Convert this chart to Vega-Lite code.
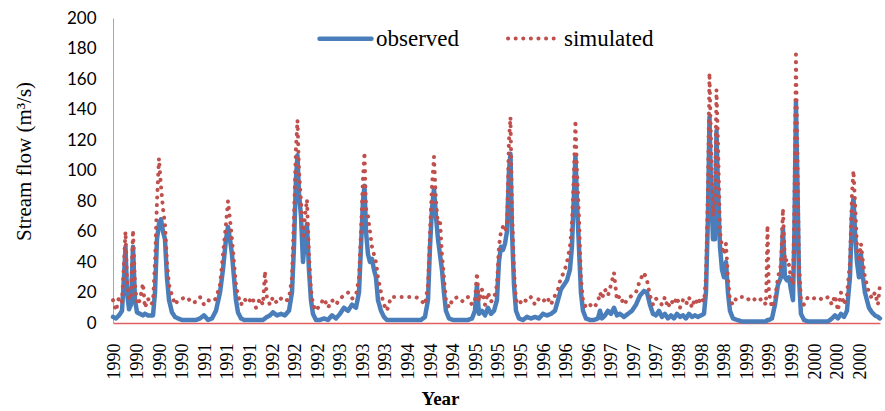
{
  "$schema": "https://vega.github.io/schema/vega-lite/v6.json",
  "width": 767,
  "height": 305,
  "autosize": {"type": "none"},
  "padding": {"left": 113, "top": 18, "right": 5, "bottom": 88},
  "background": "white",
  "config": {
    "view": {"stroke": null},
    "axis": {"grid": false},
    "legend": {
      "orient": "none",
      "legendX": 204,
      "legendY": -8,
      "direction": "horizontal",
      "padding": 0,
      "symbolType": "stroke",
      "symbolSize": 2700,
      "labelFont": "Liberation Serif",
      "labelFontSize": 23,
      "labelColor": "#000000",
      "labelOffset": 2,
      "columnPadding": 40
    }
  },
  "data": {
    "values": [
      {"year": 1989.971, "observed": 4, "simulated": 15},
      {"year": 1990.015, "observed": 3, "simulated": 8},
      {"year": 1990.058, "observed": 5, "simulated": 17},
      {"year": 1990.102, "observed": 8, "simulated": 14},
      {"year": 1990.131, "observed": 30, "simulated": 40},
      {"year": 1990.153, "observed": 50, "simulated": 60},
      {"year": 1990.175, "observed": 20, "simulated": 28},
      {"year": 1990.204, "observed": 9, "simulated": 15},
      {"year": 1990.233, "observed": 12, "simulated": 18},
      {"year": 1990.262, "observed": 50, "simulated": 61},
      {"year": 1990.291, "observed": 15, "simulated": 25},
      {"year": 1990.320, "observed": 7, "simulated": 12},
      {"year": 1990.364, "observed": 6, "simulated": 15},
      {"year": 1990.407, "observed": 5, "simulated": 26},
      {"year": 1990.436, "observed": 6, "simulated": 10},
      {"year": 1990.480, "observed": 5, "simulated": 16},
      {"year": 1990.524, "observed": 5, "simulated": 12},
      {"year": 1990.553, "observed": 5, "simulated": 14},
      {"year": 1990.582, "observed": 20, "simulated": 40},
      {"year": 1990.611, "observed": 55, "simulated": 80},
      {"year": 1990.640, "observed": 65, "simulated": 108},
      {"year": 1990.669, "observed": 68, "simulated": 90},
      {"year": 1990.698, "observed": 60, "simulated": 75},
      {"year": 1990.727, "observed": 55, "simulated": 65},
      {"year": 1990.756, "observed": 30, "simulated": 40},
      {"year": 1990.786, "observed": 15, "simulated": 25},
      {"year": 1990.829, "observed": 7, "simulated": 18},
      {"year": 1990.873, "observed": 4, "simulated": 12},
      {"year": 1990.917, "observed": 3, "simulated": 15},
      {"year": 1990.975, "observed": 2, "simulated": 16},
      {"year": 1991.047, "observed": 2, "simulated": 17},
      {"year": 1991.120, "observed": 2, "simulated": 13},
      {"year": 1991.178, "observed": 2, "simulated": 14},
      {"year": 1991.237, "observed": 3, "simulated": 17},
      {"year": 1991.295, "observed": 5, "simulated": 12},
      {"year": 1991.353, "observed": 2, "simulated": 15},
      {"year": 1991.411, "observed": 3, "simulated": 14},
      {"year": 1991.469, "observed": 8, "simulated": 16},
      {"year": 1991.528, "observed": 20, "simulated": 25},
      {"year": 1991.571, "observed": 35, "simulated": 45},
      {"year": 1991.615, "observed": 55, "simulated": 65},
      {"year": 1991.644, "observed": 63, "simulated": 80},
      {"year": 1991.673, "observed": 55, "simulated": 68},
      {"year": 1991.702, "observed": 45, "simulated": 55},
      {"year": 1991.731, "observed": 30, "simulated": 40},
      {"year": 1991.760, "observed": 15, "simulated": 25},
      {"year": 1991.789, "observed": 7, "simulated": 18},
      {"year": 1991.833, "observed": 3, "simulated": 12},
      {"year": 1991.877, "observed": 2, "simulated": 16},
      {"year": 1991.935, "observed": 2, "simulated": 13},
      {"year": 1991.993, "observed": 2, "simulated": 17},
      {"year": 1992.051, "observed": 2, "simulated": 10},
      {"year": 1992.109, "observed": 2, "simulated": 16},
      {"year": 1992.153, "observed": 2, "simulated": 12},
      {"year": 1992.182, "observed": 3, "simulated": 34},
      {"year": 1992.211, "observed": 4, "simulated": 16},
      {"year": 1992.255, "observed": 5, "simulated": 12},
      {"year": 1992.299, "observed": 7, "simulated": 17},
      {"year": 1992.357, "observed": 5, "simulated": 13},
      {"year": 1992.415, "observed": 6, "simulated": 16},
      {"year": 1992.473, "observed": 5, "simulated": 14},
      {"year": 1992.531, "observed": 8, "simulated": 16},
      {"year": 1992.575, "observed": 20, "simulated": 30},
      {"year": 1992.604, "observed": 50, "simulated": 70},
      {"year": 1992.633, "observed": 95, "simulated": 115},
      {"year": 1992.655, "observed": 110, "simulated": 133},
      {"year": 1992.677, "observed": 85, "simulated": 100},
      {"year": 1992.706, "observed": 70, "simulated": 80},
      {"year": 1992.735, "observed": 40, "simulated": 55},
      {"year": 1992.764, "observed": 55, "simulated": 70},
      {"year": 1992.793, "observed": 65, "simulated": 81},
      {"year": 1992.822, "observed": 35, "simulated": 45},
      {"year": 1992.851, "observed": 15, "simulated": 22},
      {"year": 1992.880, "observed": 6, "simulated": 12},
      {"year": 1992.924, "observed": 2, "simulated": 8},
      {"year": 1992.982, "observed": 2, "simulated": 12},
      {"year": 1993.041, "observed": 3, "simulated": 16},
      {"year": 1993.099, "observed": 2, "simulated": 10},
      {"year": 1993.157, "observed": 5, "simulated": 15},
      {"year": 1993.215, "observed": 3, "simulated": 12},
      {"year": 1993.273, "observed": 6, "simulated": 16},
      {"year": 1993.331, "observed": 10, "simulated": 18},
      {"year": 1993.390, "observed": 8, "simulated": 20},
      {"year": 1993.448, "observed": 12, "simulated": 16},
      {"year": 1993.506, "observed": 10, "simulated": 18},
      {"year": 1993.550, "observed": 20, "simulated": 30},
      {"year": 1993.579, "observed": 50, "simulated": 60},
      {"year": 1993.608, "observed": 80, "simulated": 95},
      {"year": 1993.630, "observed": 90, "simulated": 112},
      {"year": 1993.652, "observed": 60, "simulated": 75},
      {"year": 1993.681, "observed": 45, "simulated": 70},
      {"year": 1993.710, "observed": 40, "simulated": 60},
      {"year": 1993.739, "observed": 42, "simulated": 50},
      {"year": 1993.768, "observed": 35, "simulated": 45},
      {"year": 1993.797, "observed": 30, "simulated": 40},
      {"year": 1993.826, "observed": 15, "simulated": 30},
      {"year": 1993.870, "observed": 8, "simulated": 20},
      {"year": 1993.913, "observed": 4, "simulated": 12},
      {"year": 1993.957, "observed": 2, "simulated": 8},
      {"year": 1994.015, "observed": 2, "simulated": 17},
      {"year": 1994.088, "observed": 2, "simulated": 17},
      {"year": 1994.161, "observed": 2, "simulated": 17},
      {"year": 1994.233, "observed": 2, "simulated": 17},
      {"year": 1994.306, "observed": 2, "simulated": 17},
      {"year": 1994.379, "observed": 2, "simulated": 17},
      {"year": 1994.452, "observed": 2, "simulated": 15},
      {"year": 1994.510, "observed": 4, "simulated": 12},
      {"year": 1994.554, "observed": 15, "simulated": 25},
      {"year": 1994.583, "observed": 50, "simulated": 60},
      {"year": 1994.612, "observed": 75, "simulated": 90},
      {"year": 1994.641, "observed": 88, "simulated": 109},
      {"year": 1994.670, "observed": 70, "simulated": 80},
      {"year": 1994.699, "observed": 55, "simulated": 65},
      {"year": 1994.728, "observed": 45, "simulated": 68},
      {"year": 1994.757, "observed": 35, "simulated": 45},
      {"year": 1994.786, "observed": 20, "simulated": 30},
      {"year": 1994.815, "observed": 8, "simulated": 15},
      {"year": 1994.859, "observed": 3, "simulated": 10},
      {"year": 1994.917, "observed": 2, "simulated": 16},
      {"year": 1994.990, "observed": 2, "simulated": 17},
      {"year": 1995.063, "observed": 2, "simulated": 14},
      {"year": 1995.135, "observed": 2, "simulated": 17},
      {"year": 1995.194, "observed": 3, "simulated": 12},
      {"year": 1995.237, "observed": 8, "simulated": 15},
      {"year": 1995.266, "observed": 25, "simulated": 33},
      {"year": 1995.295, "observed": 6, "simulated": 14},
      {"year": 1995.339, "observed": 8, "simulated": 22},
      {"year": 1995.383, "observed": 5, "simulated": 12},
      {"year": 1995.426, "observed": 10, "simulated": 20},
      {"year": 1995.470, "observed": 6, "simulated": 14},
      {"year": 1995.514, "observed": 8, "simulated": 16},
      {"year": 1995.557, "observed": 15, "simulated": 25},
      {"year": 1995.586, "observed": 40, "simulated": 50},
      {"year": 1995.615, "observed": 50, "simulated": 60},
      {"year": 1995.645, "observed": 48, "simulated": 63},
      {"year": 1995.674, "observed": 52, "simulated": 60},
      {"year": 1995.703, "observed": 60, "simulated": 64},
      {"year": 1995.732, "observed": 100, "simulated": 120},
      {"year": 1995.754, "observed": 111, "simulated": 135},
      {"year": 1995.776, "observed": 60, "simulated": 75},
      {"year": 1995.805, "observed": 25, "simulated": 35},
      {"year": 1995.834, "observed": 8, "simulated": 15},
      {"year": 1995.877, "observed": 3, "simulated": 12},
      {"year": 1995.936, "observed": 2, "simulated": 16},
      {"year": 1995.994, "observed": 4, "simulated": 14},
      {"year": 1996.052, "observed": 3, "simulated": 17},
      {"year": 1996.110, "observed": 4, "simulated": 12},
      {"year": 1996.168, "observed": 3, "simulated": 16},
      {"year": 1996.227, "observed": 6, "simulated": 14},
      {"year": 1996.285, "observed": 5, "simulated": 17},
      {"year": 1996.343, "observed": 6, "simulated": 12},
      {"year": 1996.401, "observed": 8, "simulated": 18},
      {"year": 1996.445, "observed": 15, "simulated": 22},
      {"year": 1996.488, "observed": 22, "simulated": 30},
      {"year": 1996.532, "observed": 25, "simulated": 33},
      {"year": 1996.576, "observed": 28, "simulated": 40},
      {"year": 1996.619, "observed": 35, "simulated": 50},
      {"year": 1996.648, "observed": 50, "simulated": 65},
      {"year": 1996.678, "observed": 85, "simulated": 100},
      {"year": 1996.699, "observed": 110, "simulated": 133},
      {"year": 1996.721, "observed": 80, "simulated": 100},
      {"year": 1996.750, "observed": 50, "simulated": 70},
      {"year": 1996.779, "observed": 20, "simulated": 30},
      {"year": 1996.809, "observed": 8, "simulated": 15},
      {"year": 1996.852, "observed": 3, "simulated": 10},
      {"year": 1996.910, "observed": 2, "simulated": 12},
      {"year": 1996.969, "observed": 2, "simulated": 10},
      {"year": 1997.027, "observed": 3, "simulated": 14},
      {"year": 1997.056, "observed": 8, "simulated": 20},
      {"year": 1997.085, "observed": 3, "simulated": 16},
      {"year": 1997.129, "observed": 5, "simulated": 22},
      {"year": 1997.172, "observed": 8, "simulated": 18},
      {"year": 1997.216, "observed": 6, "simulated": 25},
      {"year": 1997.260, "observed": 10, "simulated": 33},
      {"year": 1997.303, "observed": 5, "simulated": 15},
      {"year": 1997.347, "observed": 6, "simulated": 18},
      {"year": 1997.405, "observed": 4, "simulated": 12},
      {"year": 1997.463, "observed": 6, "simulated": 16},
      {"year": 1997.521, "observed": 8, "simulated": 18},
      {"year": 1997.580, "observed": 12, "simulated": 20},
      {"year": 1997.638, "observed": 18, "simulated": 28},
      {"year": 1997.696, "observed": 21, "simulated": 33},
      {"year": 1997.740, "observed": 20, "simulated": 28},
      {"year": 1997.783, "observed": 12, "simulated": 18},
      {"year": 1997.827, "observed": 6, "simulated": 12},
      {"year": 1997.871, "observed": 5, "simulated": 16},
      {"year": 1997.914, "observed": 8, "simulated": 14},
      {"year": 1997.958, "observed": 4, "simulated": 12},
      {"year": 1998.001, "observed": 6, "simulated": 17},
      {"year": 1998.045, "observed": 3, "simulated": 10},
      {"year": 1998.089, "observed": 5, "simulated": 15},
      {"year": 1998.132, "observed": 3, "simulated": 12},
      {"year": 1998.176, "observed": 6, "simulated": 17},
      {"year": 1998.220, "observed": 4, "simulated": 10},
      {"year": 1998.263, "observed": 5, "simulated": 15},
      {"year": 1998.307, "observed": 3, "simulated": 12},
      {"year": 1998.351, "observed": 6, "simulated": 17},
      {"year": 1998.394, "observed": 4, "simulated": 10},
      {"year": 1998.438, "observed": 5, "simulated": 16},
      {"year": 1998.482, "observed": 4, "simulated": 12},
      {"year": 1998.525, "observed": 5, "simulated": 17},
      {"year": 1998.569, "observed": 6, "simulated": 14},
      {"year": 1998.598, "observed": 20, "simulated": 30},
      {"year": 1998.627, "observed": 70, "simulated": 90},
      {"year": 1998.649, "observed": 135, "simulated": 164},
      {"year": 1998.671, "observed": 90, "simulated": 120},
      {"year": 1998.700, "observed": 55, "simulated": 70},
      {"year": 1998.729, "observed": 55, "simulated": 80},
      {"year": 1998.751, "observed": 126, "simulated": 153},
      {"year": 1998.772, "observed": 90, "simulated": 120},
      {"year": 1998.802, "observed": 50, "simulated": 60},
      {"year": 1998.831, "observed": 35, "simulated": 50},
      {"year": 1998.860, "observed": 30, "simulated": 45},
      {"year": 1998.889, "observed": 40, "simulated": 52},
      {"year": 1998.918, "observed": 20, "simulated": 30},
      {"year": 1998.947, "observed": 8, "simulated": 15},
      {"year": 1998.991, "observed": 3, "simulated": 12},
      {"year": 1999.049, "observed": 2, "simulated": 17},
      {"year": 1999.122, "observed": 1, "simulated": 17},
      {"year": 1999.194, "observed": 1, "simulated": 15},
      {"year": 1999.267, "observed": 1, "simulated": 17},
      {"year": 1999.340, "observed": 1, "simulated": 14},
      {"year": 1999.413, "observed": 1, "simulated": 16},
      {"year": 1999.471, "observed": 1, "simulated": 12},
      {"year": 1999.493, "observed": 2, "simulated": 64},
      {"year": 1999.514, "observed": 2, "simulated": 20},
      {"year": 1999.558, "observed": 3, "simulated": 10},
      {"year": 1999.602, "observed": 12, "simulated": 16},
      {"year": 1999.645, "observed": 25, "simulated": 30},
      {"year": 1999.689, "observed": 30, "simulated": 38},
      {"year": 1999.718, "observed": 62, "simulated": 75},
      {"year": 1999.747, "observed": 30, "simulated": 40},
      {"year": 1999.776, "observed": 28, "simulated": 42},
      {"year": 1999.805, "observed": 30, "simulated": 38},
      {"year": 1999.834, "observed": 22, "simulated": 30},
      {"year": 1999.864, "observed": 15, "simulated": 25},
      {"year": 1999.885, "observed": 60, "simulated": 80},
      {"year": 1999.907, "observed": 145, "simulated": 176},
      {"year": 1999.929, "observed": 90, "simulated": 110},
      {"year": 1999.951, "observed": 30, "simulated": 40},
      {"year": 1999.980, "observed": 6, "simulated": 15},
      {"year": 2000.024, "observed": 2, "simulated": 12},
      {"year": 2000.082, "observed": 1, "simulated": 17},
      {"year": 2000.155, "observed": 1, "simulated": 16},
      {"year": 2000.227, "observed": 1, "simulated": 17},
      {"year": 2000.300, "observed": 1, "simulated": 15},
      {"year": 2000.373, "observed": 1, "simulated": 17},
      {"year": 2000.431, "observed": 3, "simulated": 12},
      {"year": 2000.475, "observed": 5, "simulated": 18},
      {"year": 2000.518, "observed": 3, "simulated": 8},
      {"year": 2000.562, "observed": 6, "simulated": 20},
      {"year": 2000.606, "observed": 4, "simulated": 12},
      {"year": 2000.649, "observed": 8, "simulated": 18},
      {"year": 2000.693, "observed": 30, "simulated": 40},
      {"year": 2000.722, "observed": 70, "simulated": 85},
      {"year": 2000.744, "observed": 82, "simulated": 100},
      {"year": 2000.766, "observed": 60, "simulated": 80},
      {"year": 2000.795, "observed": 40, "simulated": 50},
      {"year": 2000.824, "observed": 30, "simulated": 40},
      {"year": 2000.853, "observed": 45, "simulated": 52},
      {"year": 2000.882, "observed": 30, "simulated": 40},
      {"year": 2000.911, "observed": 20, "simulated": 30},
      {"year": 2000.940, "observed": 15, "simulated": 25},
      {"year": 2000.969, "observed": 10, "simulated": 20},
      {"year": 2001.013, "observed": 7, "simulated": 16},
      {"year": 2001.057, "observed": 5, "simulated": 20},
      {"year": 2001.100, "observed": 4, "simulated": 12},
      {"year": 2001.129, "observed": 3, "simulated": 25}
    ]
  },
  "transform": [
    {"fold": ["observed", "simulated"], "as": ["series", "flow"]}
  ],
  "mark": {"type": "line", "strokeCap": "round", "strokeJoin": "round"},
  "encoding": {
    "x": {
      "field": "year",
      "type": "quantitative",
      "title": "Year",
      "scale": {"domain": [1989.971, 2001.13], "nice": false, "zero": false},
      "axis": {
        "values": [1990, 1990.3285, 1990.6571, 1990.9856, 1991.3142, 1991.6427, 1991.9713, 1992.2998, 1992.6283, 1992.9569, 1993.2854, 1993.614, 1993.9425, 1994.271, 1994.5996, 1994.9281, 1995.2567, 1995.5852, 1995.9138, 1996.2423, 1996.5708, 1996.8994, 1997.2279, 1997.5565, 1997.885, 1998.2136, 1998.5421, 1998.8706, 1999.1992, 1999.5277, 1999.8563, 2000.1848, 2000.5133, 2000.8419],
        "labelExpr": "floor(datum.value)",
        "labelAngle": -90,
        "labelFont": "Liberation Serif",
        "labelFontSize": 18,
        "labelColor": "#000000",
        "labelPadding": 20,
        "labelOverlap": false,
        "labelFlush": false,
        "ticks": false,
        "domainColor": "#e06060",
        "domainWidth": 1.5,
        "titleFont": "Liberation Serif",
        "titleFontSize": 19,
        "titleFontWeight": "bold",
        "titleColor": "#000000",
        "titleX": 327,
        "titleY": 81,
        "titleAlign": "center",
        "titleBaseline": "alphabetic"
      }
    },
    "y": {
      "field": "flow",
      "type": "quantitative",
      "title": "Stream flow (m³/s)",
      "scale": {"domain": [0, 200], "nice": false},
      "axis": {
        "values": [0, 20, 40, 60, 80, 100, 120, 140, 160, 180, 200],
        "labelFont": "Lato",
        "labelFontSize": 17,
        "labelColor": "#000000",
        "labelPadding": 17,
        "ticks": false,
        "domainColor": "#a6a6a6",
        "domainWidth": 1,
        "titleFont": "Liberation Serif",
        "titleFontSize": 21,
        "titleFontWeight": "normal",
        "titleColor": "#000000",
        "titleAngle": -90,
        "titleX": -89,
        "titleY": 143,
        "titleAlign": "center",
        "titleBaseline": "middle"
      }
    },
    "color": {
      "field": "series",
      "type": "nominal",
      "title": null,
      "scale": {"domain": ["observed", "simulated"], "range": ["#4a7ebb", "#c0504d"]},
      "legend": {
        "encode": {"symbols": {"update": {"strokeCap": {"value": "round"}}}}
      }
    },
    "strokeDash": {
      "field": "series",
      "type": "nominal",
      "title": null,
      "scale": {"domain": ["observed", "simulated"], "range": [[1, 0], [0.1, 7.5]]}
    },
    "strokeWidth": {
      "field": "series",
      "type": "nominal",
      "title": null,
      "scale": {"domain": ["observed", "simulated"], "range": [4.5, 4]}
    }
  }
}
